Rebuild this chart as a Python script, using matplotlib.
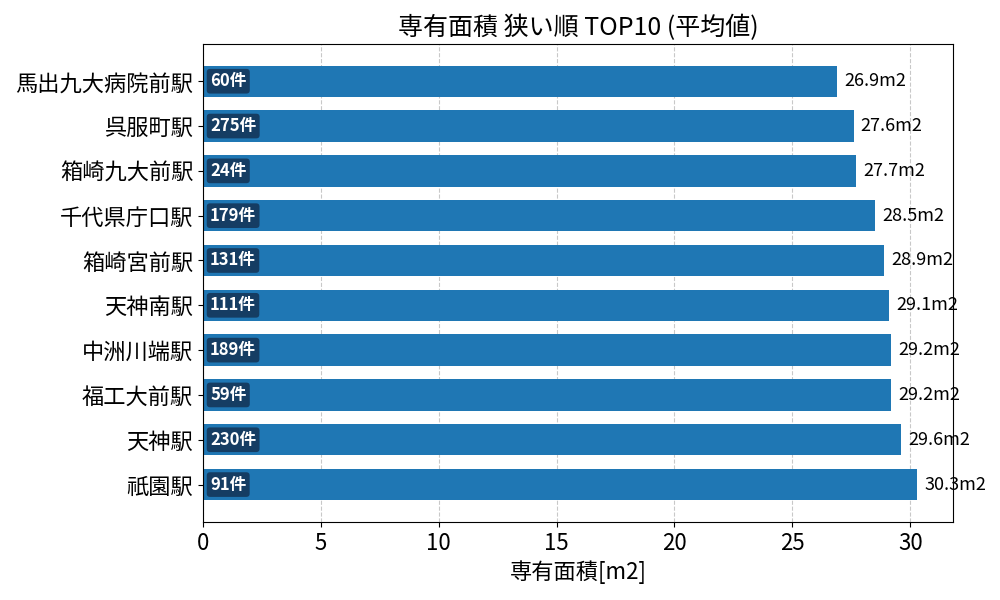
import numpy as np
import matplotlib
matplotlib.use('Agg')
import matplotlib.pyplot as plt

plt.rcParams['font.family'] = ['Noto Sans CJK JP', 'DejaVu Sans']

# data (top to bottom)
stations = ['馬出九大病院前駅', '呉服町駅', '箱崎九大前駅', '千代県庁口駅', '箱崎宮前駅',
            '天神南駅', '中洲川端駅', '福工大前駅', '天神駅', '祇園駅']
areas = [26.9, 27.6, 27.7, 28.5, 28.9, 29.1, 29.2, 29.2, 29.6, 30.3]
counts = [60, 275, 24, 179, 131, 111, 189, 59, 230, 91]

fig, ax = plt.subplots(figsize=(10, 6), dpi=100)
fig.subplots_adjust(left=0.203, right=0.953, top=0.927, bottom=0.13)

y = np.arange(len(stations))
ax.barh(y, areas, height=0.7, color='#1f77b4', zorder=2)
ax.set_yticks(y)
ax.set_yticklabels(stations, fontsize=16)
ax.invert_yaxis()
ax.set_xlim(0, max(areas) * 1.05)
ax.tick_params(axis='x', labelsize=16)
ax.grid(axis='x', linestyle='--', color='#bbbbbb', alpha=0.8, zorder=0)
ax.set_axisbelow(True)

for i, (a, c) in enumerate(zip(areas, counts)):
    ax.text(a + 0.3, i, f'{a:.1f}m2', va='center', ha='left', fontsize=13, clip_on=False)
    ax.text(0.3, i, f'{c}件', va='center', ha='left', fontsize=12, fontweight='bold',
            color='white',
            bbox=dict(boxstyle='round,pad=0.2', facecolor='#14375a', edgecolor='none', alpha=0.9))

ax.set_title('専有面積 狭い順 TOP10 (平均値)', fontsize=18)
ax.set_xlabel('専有面積[m2]', fontsize=16)

plt.savefig('out.png')
